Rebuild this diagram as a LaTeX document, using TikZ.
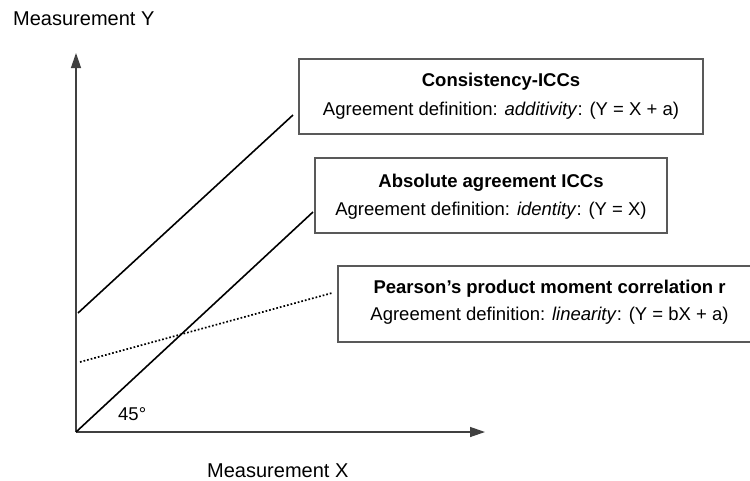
\documentclass[tikz,border=0pt]{standalone}
\usepackage{fontspec}
\setmainfont{Liberation Sans}
\usetikzlibrary{arrows.meta}
\begin{document}
\begin{tikzpicture}[x=1pt,y=-1pt,
  axisline/.style={draw=black!75, line width=1.3pt, -{Triangle[length=15pt,width=10pt]}},
  trend/.style={draw=black, line width=1.6pt},
  dotline/.style={draw=black, line width=1.7pt, dash pattern=on 1.7pt off 2pt},
  infobox/.style={draw=black!65, line width=1.4pt, rectangle, inner sep=0pt},
  lbl/.style={font=\fontsize{18.5}{22}\selectfont, inner sep=0pt},
  axislbl/.style={font=\fontsize{20}{24}\selectfont, inner sep=0pt, anchor=base west},
  boxtitle/.style={lbl, font=\fontsize{18.5}{22}\selectfont\bfseries, anchor=base},
  boxtext/.style={lbl, anchor=base}]
\clip (0,0) rectangle (750,480);
\fill[white] (0,0) rectangle (750,480);

% axes
\coordinate (O) at (76,432);
\coordinate (ytip) at (76,53);
\coordinate (xtip) at (485,432);
\draw[axisline] (O) -- (ytip);
\draw[axisline] (O) -- (xtip);
\node[axislbl] (ylab) at (13,25) {Measurement Y};
\node[axislbl] (xlab) at (207,477) {Measurement X};
\node[lbl, anchor=base west] (ang) at (118,420) {45°};

% description boxes
\node[infobox, minimum width=404pt, minimum height=75pt] (b1) at (501,96.5) {};
\node[boxtitle] (t1) at (501,86) {Consistency-ICCs};
\node[boxtext] (d1) at (501,115) {Agreement definition: \textit{additivity}: (Y = X + a)};

\node[infobox, minimum width=352pt, minimum height=75pt] (b2) at (491,195.5) {};
\node[boxtitle] (t2) at (491,187) {Absolute agreement ICCs};
\node[boxtext] (d2) at (491,215) {Agreement definition: \textit{identity}: (Y = X)};

\node[infobox, minimum width=424pt, minimum height=76pt] (b3) at (550,304) {};
\node[boxtitle] (t3) at (549.5,293) {Pearson’s product moment correlation r};
\node[boxtext] (d3) at (549.5,320) {Agreement definition: \textit{linearity}: (Y = bX + a)};

% lines
\coordinate (c0) at (78,313);
\coordinate (c1) at (293,115);
\coordinate (a1) at (313,212);
\coordinate (p0) at (80,362);
\coordinate (p1) at (332,293);
\draw[trend] (c0) -- (c1);
\draw[trend] (O) -- (a1);
\draw[dotline] (p0) -- (p1);
\end{tikzpicture}
\end{document}
